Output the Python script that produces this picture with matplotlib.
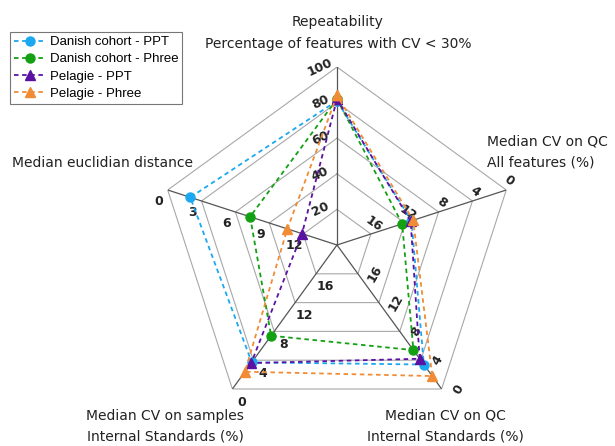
import numpy as np
import matplotlib.pyplot as plt

# axes of the radar, counter-clockwise starting at the top
categories = ["Repeatability\nPercentage of features with CV < 30%",
              "Median euclidian distance",
              "Median CV on samples\nInternal Standards (%)",
              "Median CV on QC\nInternal Standards (%)",
              "Median CV on QC\nAll features (%)"]
axis_centre = [0, 15, 20, 20, 20]   # value at the centre of each axis
axis_outer = [100, 0, 0, 0, 0]      # value at the outer ring
axis_ticks = [[20, 40, 60, 80, 100],
              [12, 9, 6, 3, 0],
              [16, 12, 8, 4, 0],
              [16, 12, 8, 4, 0],
              [16, 12, 8, 4, 0]]

series_names = ["Danish cohort - PPT", "Danish cohort - Phree",
                "Pelagie - PPT", "Pelagie - Phree"]
danish_ppt = [81, 2.0, 3.7, 3.4, 11.2]
danish_phree = [82, 7.3, 7.4, 5.4, 12.3]
pelagie_ppt = [82, 11.9, 3.6, 4.2, 11.3]
pelagie_phree = [84, 10.6, 2.4, 1.8, 11.0]
series_values = [danish_ppt, danish_phree, pelagie_ppt, pelagie_phree]
series_colors = ["#1BA8F0", "#13A013", "#5B12A3", "#F08C35"]
series_markers = ["o", "o", "^", "^"]


def to_radius(vals):
    return [(v - c) / (o - c) for v, c, o in zip(vals, axis_centre, axis_outer)]


n = len(categories)
angles = np.deg2rad(np.arange(n) * 72.0)
closed = np.append(angles, angles[0])

fig = plt.figure(figsize=(6.15, 4.46), dpi=100)
ax = fig.add_axes([(337 - 178) / 615, (446 - 245 - 178) / 446, 356 / 615, 356 / 446],
                  projection="polar")
ax.set_theta_offset(np.pi / 2)
ax.set_ylim(0, 1)
ax.set_axis_off()

# pentagon grid
for level in [0.2, 0.4, 0.6, 0.8, 1.0]:
    ax.plot(closed, [level] * (n + 1), color="#a8a8a8", lw=0.8, zorder=1)
for a in angles:
    ax.plot([a, a], [0, 1], color="#555555", lw=0.9, zorder=2)

# tick labels: offset in points and rotation for each axis
tick_offsets = [(-12, 0), (-6.5, -8.6), (6.5, -9.4), (12, 0), (2, 7)]
tick_rot = [25, 0, 0, 60, -35]
for i in range(n):
    for t in axis_ticks[i]:
        r = (t - axis_centre[i]) / (axis_outer[i] - axis_centre[i])
        ax.annotate(str(t), xy=(angles[i], r), xytext=tick_offsets[i],
                    textcoords="offset points", ha="center", va="center",
                    rotation=tick_rot[i], fontsize=9, fontweight="bold",
                    color="#222222", zorder=3)

# series
for name, vals, col, mk in zip(series_names, series_values, series_colors, series_markers):
    r = to_radius(vals)
    ax.plot(closed, r + r[:1], color=col, lw=1.3, linestyle=(0, (2.5, 2)),
            marker=mk, markersize=6.5, label=name, zorder=5, clip_on=False)

# axis titles
txt = dict(fontsize=10, color="#222222")
fig.text(338 / 615, 1 - 33 / 446, categories[0], ha="center", va="center",
         linespacing=1.75, **txt)
fig.text(12 / 615, 1 - 163 / 446, categories[1], ha="left", va="center", **txt)
fig.text(165 / 615, 1 - 426 / 446, categories[2], ha="center", va="center",
         linespacing=1.6, **txt)
fig.text(445 / 615, 1 - 426 / 446, categories[3], ha="center", va="center",
         linespacing=1.6, **txt)
fig.text(487 / 615, 1 - 152 / 446, categories[4], ha="left", va="center",
         linespacing=1.6, **txt)

leg = ax.legend(loc="upper left", bbox_to_anchor=(10 / 615, 1 - 32 / 446),
                bbox_transform=fig.transFigure, borderaxespad=0,
                prop={"family": "Liberation Sans", "size": 9.5},
                fancybox=False, edgecolor="#777777", handlelength=2.4,
                handletextpad=0.3, labelspacing=0.38, borderpad=0.3, framealpha=1)
leg.get_frame().set_linewidth(0.8)

fig.savefig("out.png", dpi=100)
